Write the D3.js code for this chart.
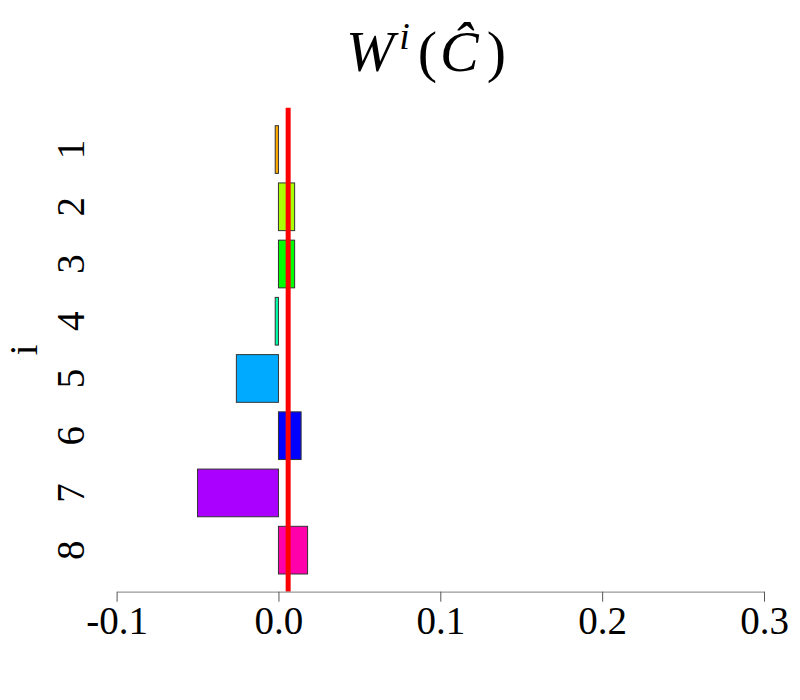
<!DOCTYPE html>
<html>
<head>
<meta charset="utf-8">
<script src="https://cdn.jsdelivr.net/npm/d3@7"></script>
<style>
  html, body { margin: 0; padding: 0; background: #fff; }
  svg { display: block; }
  text { font-family: "Liberation Serif", "DejaVu Serif", serif; }
</style>
</head>
<body>
<svg id="chart" width="800" height="700"></svg>
<script>
// ---- data ----
const categories = ["1", "2", "3", "4", "5", "6", "7", "8"];
const values = [-0.002, 0.010, 0.010, -0.002, -0.026, 0.014, -0.050, 0.018];
const barColors = ["#FFAA00", "#AAFF00", "#00FF00", "#00FFAA", "#00AAFF", "#0000FF", "#AA00FF", "#FF00AA"];
const refValue = [0.006];
const xTicks = [-0.1, 0.0, 0.1, 0.2, 0.3];
const xTickLabels = ["-0.1", "0.0", "0.1", "0.2", "0.3"];

const svg = d3.select("#chart");

const x = d3.scaleLinear().domain([-0.1, 0.3]).range([116.6, 764]);
const y = d3.scaleBand().domain(categories).range([125.7, 574])
  .paddingInner(0.2 / 1.2).paddingOuter(0);

const plotTop = 107.8, plotBottom = 591.7;

// bars
svg.append("g").selectAll("rect")
  .data(values)
  .join("rect")
  .attr("x", d => x(Math.min(0, d)))
  .attr("width", d => Math.abs(x(d) - x(0)))
  .attr("y", (d, i) => y(categories[i]))
  .attr("height", y.bandwidth())
  .attr("fill", (d, i) => barColors[i])
  .attr("stroke", "#333")
  .attr("stroke-width", 1);

// reference line
svg.append("g").selectAll("line")
  .data(refValue)
  .join("line")
  .attr("x1", d => x(d)).attr("x2", d => x(d))
  .attr("y1", plotTop).attr("y2", plotBottom)
  .attr("stroke", "#FF0000")
  .attr("stroke-width", 5);

// x axis
const xAxis = d3.axisBottom(x)
  .tickValues(xTicks)
  .tickFormat((d, i) => xTickLabels[i])
  .tickSize(10)
  .tickSizeOuter(0)
  .tickPadding(0);
const gx = svg.append("g").attr("transform", `translate(0,${plotBottom})`).call(xAxis);
gx.select(".domain").attr("stroke", "#999").attr("stroke-width", 1.2);
gx.selectAll(".tick line").attr("stroke", "#555").attr("stroke-width", 1);
gx.selectAll(".tick text")
  .attr("y", 42).attr("dy", 0)
  .attr("fill", "#000")
  .style("font-family", "'Liberation Serif', 'DejaVu Serif', serif")
  .style("font-size", "39px");

// y axis labels (rotated, no line)
const yAxis = d3.axisLeft(y).tickSize(0).tickPadding(0);
const gy = svg.append("g").attr("transform", "translate(84,0)").call(yAxis);
gy.select(".domain").remove();
gy.selectAll(".tick text")
  .attr("x", 0).attr("dy", 0)
  .attr("transform", "rotate(-90)")
  .attr("text-anchor", "middle")
  .attr("fill", "#000")
  .style("font-family", "'Liberation Serif', 'DejaVu Serif', serif")
  .style("font-size", "39px");

// y axis title
svg.append("text")
  .attr("transform", `translate(37,${(plotTop + plotBottom) / 2}) rotate(-90)`)
  .attr("text-anchor", "middle")
  .style("font-size", "39px")
  .text("i");

// title  W^i(Ĉ)
const title = svg.append("text")
  .attr("x", 426).attr("y", 71)
  .attr("text-anchor", "middle")
  .style("font-size", "58px");
title.append("tspan").style("font-style", "italic").text("W");
title.append("tspan").style("font-style", "italic").style("font-size", "38px").attr("dy", -22).attr("dx", 5).text("i");
title.append("tspan").attr("dy", 22).attr("dx", 8).text("(");
title.append("tspan").style("font-style", "italic").attr("dx", 3).text("Ĉ");
title.append("tspan").attr("dx", 8).text(")");
</script>
</body>
</html>
